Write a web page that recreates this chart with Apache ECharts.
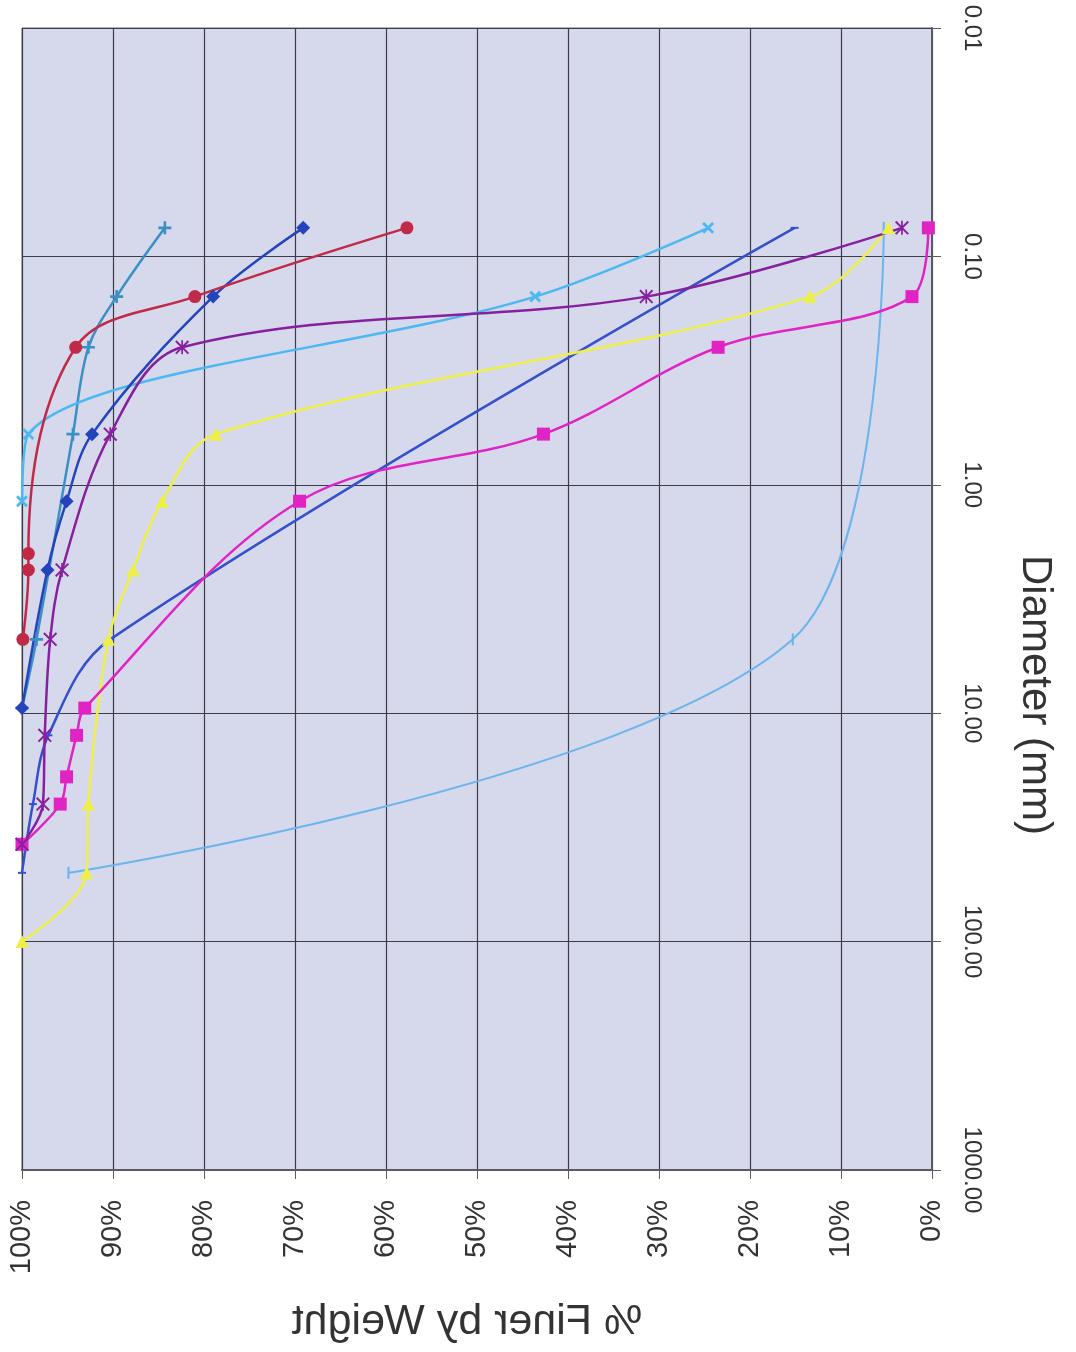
<!DOCTYPE html>
<html>
<head>
<meta charset="utf-8">
<script src="https://cdn.jsdelivr.net/npm/echarts@6/dist/echarts.min.js"></script>
<style>
html, body { margin: 0; padding: 0; background: #fff; }
#chart { width: 1076px; height: 1352px; }
</style>
</head>
<body>
<div id="chart"></div>
<script>
// sieve sizes in mm, shared by every sample
var sieveSizes = [0.075, 0.15, 0.25, 0.6, 1.18, 2.0, 2.36, 4.75, 9.5, 12.5, 19, 25, 37.5, 50, 100];

// % finer by weight per sample (null = no reading at that sieve)
var navyDiamond    = [69.1, 79.0, null, 92.3, 95.1, null, 97.2, null, 100, null, null, null, null, null, null];
var magentaSquare  = [0.4, 2.2, 23.5, 42.7, 69.5, null, null, null, 93.1, 94.0, 95.1, 95.8, 100, null, null];
var yellowTriangle = [4.8, 13.4, null, 78.7, 84.6, null, 87.8, 90.5, null, null, null, 92.7, null, 92.9, 100];
var cyanCross      = [24.6, 43.6, null, 99.3, 100, null, null, null, null, null, null, null, null, null, null];
var purpleStar     = [3.3, 31.4, 82.4, 90.3, null, null, 95.6, 96.9, null, 97.5, null, 97.7, 100, null, null];
var redCircle      = [57.7, 81.0, 94.1, null, null, 99.3, 99.3, 99.9, null, null, null, null, null, null, null];
var tealPlus       = [84.3, 89.6, 92.7, 94.4, null, null, null, 98.4, 100, null, null, null, null, null, null];
var blueDash       = [15.1, null, null, null, null, null, null, 90.3, null, 97.1, null, 98.8, null, 100, null];
var skyBar         = [5.3, null, null, null, null, null, null, 15.3, null, null, null, null, null, 94.9, null];

var pctTicks = [0, 10, 20, 30, 40, 50, 60, 70, 80, 90, 100];

var PLUS = 'path://M4,0H6V4H10V6H6V10H4V6H0V4H4Z';
var STAR = 'path://M0,1L1,0L10,9L9,10Z M9,0L10,1L1,10L0,9Z M4.4,0H5.6V10H4.4Z';
var FONT = '"Liberation Sans", Arial, sans-serif';

function pairs(vals) {
    var out = [];
    sieveSizes.forEach(function(d, i) {
        if (vals[i] !== null) {
            out.push([vals[i], d]);
        }
    });
    return out;
}

function line(vals, color, symbol, size, extra) {
    var s = {
        type: 'line',
        data: pairs(vals),
        smooth: 0.35,
        symbol: symbol,
        symbolSize: size,
        showSymbol: true,
        lineStyle: { color: color, width: 2.5 },
        itemStyle: { color: color, borderWidth: 0 },
        emphasis: { disabled: true }
    };
    return Object.assign(s, extra || {});
}

var chart = echarts.init(document.getElementById('chart'));
chart.setOption({
    animation: false,
    backgroundColor: '#ffffff',
    grid: {
        left: 22, top: 28, right: 144, bottom: 182,
        show: true,
        backgroundColor: '#d6d8eb',
        borderColor: '#6a6a78',
        borderWidth: 1
    },
    xAxis: {
        type: 'value',
        min: 0, max: 100, interval: 10,
        inverse: true,
        position: 'bottom',
        axisLine: { show: true, lineStyle: { color: '#5a5a66', width: 2 } },
        axisTick: { show: true, length: 9, lineStyle: { color: '#5a5a66' } },
        axisLabel: {
            rotate: 90,
            margin: 30,
            fontSize: 29,
            fontFamily: FONT,
            color: '#333',
            formatter: function(v) { return pctTicks.indexOf(v) >= 0 ? v + '%' : ''; }
        },
        splitLine: { show: true, lineStyle: { color: '#3c3c48', width: 1.2 } }
    },
    yAxis: {
        type: 'log',
        logBase: 10,
        min: 0.01, max: 1000,
        inverse: true,
        position: 'right',
        axisLine: { show: true, lineStyle: { color: '#5a5a66', width: 2 } },
        axisTick: { show: true, length: 9, lineStyle: { color: '#5a5a66' } },
        axisLabel: {
            rotate: -90,
            margin: 28,
            fontSize: 24,
            fontFamily: FONT,
            color: '#333',
            formatter: function(v) { return Number(v).toFixed(2); }
        },
        splitLine: { show: true, lineStyle: { color: '#3c3c48', width: 1.2 } }
    },
    graphic: [{
        type: 'text',
        x: 1035, y: 695,
        rotation: -Math.PI / 2,
        style: {
            text: 'Diameter (mm)',
            font: '42px ' + FONT,
            fill: '#333',
            textAlign: 'center',
            textVerticalAlign: 'middle'
        }
    }, {
        // the scan shows this title mirrored
        type: 'text',
        x: 467, y: 1322,
        scaleX: -1,
        style: {
            text: '% Finer by Weight',
            font: '43px ' + FONT,
            fill: '#333',
            textAlign: 'center',
            textVerticalAlign: 'middle'
        }
    }],
    series: [
        line(skyBar, '#6cb4ee', 'rect', [2, 12], { lineStyle: { color: '#6cb4ee', width: 2 } }),
        line(blueDash, '#3550cc', 'rect', [8, 2]),
        line(tealPlus, '#3a8fc4', PLUS, 13),
        line(cyanCross, '#4cb8f2', PLUS, 14, { symbolRotate: 45 }),
        line(yellowTriangle, '#eef048', 'triangle', 13),
        line(magentaSquare, '#e024c4', 'rect', 13),
        line(purpleStar, '#86209e', STAR, 14),
        line(navyDiamond, '#2444bc', 'diamond', 14),
        line(redCircle, '#c02a48', 'circle', 13)
    ]
});
</script>
</body>
</html>
